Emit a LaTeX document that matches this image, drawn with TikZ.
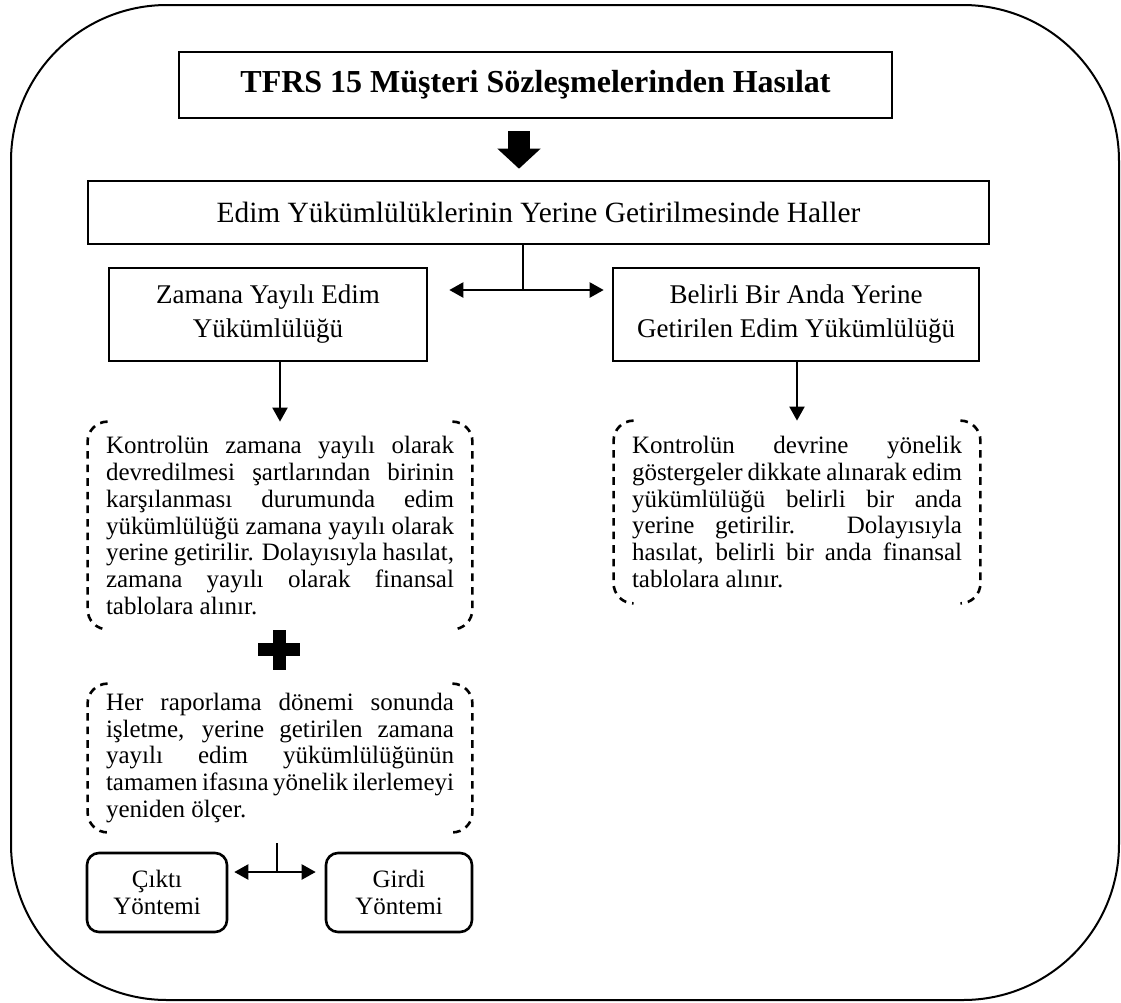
\documentclass[tikz,border=0pt]{standalone}
\usepackage{fontspec}
\setmainfont{Liberation Serif}
\usetikzlibrary{arrows.meta}

\begin{document}
\begin{tikzpicture}[x=0.5pt, y=-0.5pt, >={Triangle[length=7pt,width=7.5pt]},
	kutu/.style={draw, line width=1.3pt, inner sep=0pt, align=center},
	yuvarlak/.style={kutu, rounded corners=6pt, minimum width=70pt, minimum height=39.5pt, font=\fontsize{12.5}{13.5}\selectfont},
	metin/.style={inner xsep=9pt, inner ysep=0pt, align=justify, font=\fontsize{12.5}{13.45}\selectfont, execute at begin node={\hyphenpenalty=10000\tolerance=9999}},
	parantez/.style={line width=1.3pt, dash pattern=on 3.8pt off 3pt, rounded corners=10pt},
	ok/.style={line width=1.1pt}]
	
	\useasboundingbox (0,0) rectangle (1121,1003);
	
	% ================= dis cerceve =================
	\draw[line width=1pt, rounded corners=78pt] (11,5) rectangle (1119,1000);
	
	% ================= baslik ve haller =================
	\node[kutu, minimum width=356.5pt, minimum height=33pt, font=\fontsize{16}{19}\selectfont\bfseries] (baslik) at (535.5,85) {TFRS 15 Müşteri Sözleşmelerinden Hasılat};
	\node[kutu, minimum width=450.5pt, minimum height=31.5pt, font=\fontsize{14.7}{17}\selectfont] (hal) at (538.5,212.5) {Edim Yükümlülüklerinin Yerine Getirilmesinde Haller};
	
	% kalin blok ok
	\coordinate (blok) at (519,0);
	\draw[line width=11pt, -{Triangle[length=10pt,width=21pt]}, shorten <=6pt, shorten >=5.5pt] (baslik.south -| blok) -- (hal.north -| blok);
	
	% iki edim turu
	\node[kutu, minimum width=159pt, minimum height=46.5pt, font=\fontsize{13.5}{17}\selectfont] (zaman) at (268,314.5) {Zamana Yayılı Edim\\Yükümlülüğü};
	\node[kutu, minimum width=183pt, minimum height=46.5pt, font=\fontsize{13.5}{17}\selectfont] (belirli) at (796,314.5) {Belirli Bir Anda Yerine\\Getirilen Edim Yükümlülüğü};
	
	\coordinate (catal) at (523,290);
	\draw[ok] (hal.south -| catal) -- (catal);
	\draw[ok, <->, shorten <=10.5pt, shorten >=4pt] (zaman.east |- catal) -- (belirli.west |- catal);
	
	% ================= kesikli parantezli aciklamalar =================
	\node[metin, text width=174pt, minimum height=103.5pt] (zmetin) at (280,525.5) {Kontrolün zamana yayılı olarak\linebreak devredilmesi şartlarından birinin\linebreak karşılanması durumunda edim\linebreak yükümlülüğü zamana yayılı olarak\linebreak yerine getirilir. Dolayısıyla hasılat,\linebreak zamana yayılı olarak finansal\linebreak tablolara alınır.};
	\node[metin, text width=165pt, minimum height=91pt] (bmetin) at (797,512) {Kontrolün devrine yönelik\linebreak göstergeler dikkate alınarak edim\linebreak yükümlülüğü belirli bir anda\linebreak yerine getirilir. Dolayısıyla\linebreak hasılat, belirli bir anda finansal\linebreak tablolara alınır.};
	\node[metin, text width=174pt, minimum height=74pt] (olcum) at (280,758) {Her raporlama dönemi sonunda\linebreak işletme, yerine getirilen zamana\linebreak yayılı edim yükümlülüğünün\linebreak tamamen ifasına yönelik ilerlemeyi\linebreak yeniden ölçer.};
	
	\draw[parantez] ([xshift=10pt]zmetin.north west) -- (zmetin.north west) -- (zmetin.south west) -- ([xshift=10pt]zmetin.south west);
	\draw[parantez] ([xshift=-10pt]zmetin.north east) -- (zmetin.north east) -- (zmetin.south east) -- ([xshift=-10pt]zmetin.south east);
	\draw[parantez] ([xshift=10pt]bmetin.north west) -- (bmetin.north west) -- (bmetin.south west) -- ([xshift=10pt]bmetin.south west);
	\draw[parantez] ([xshift=-10pt]bmetin.north east) -- (bmetin.north east) -- (bmetin.south east) -- ([xshift=-10pt]bmetin.south east);
	\draw[parantez] ([xshift=10pt]olcum.north west) -- (olcum.north west) -- (olcum.south west) -- ([xshift=10pt]olcum.south west);
	\draw[parantez] ([xshift=-10pt]olcum.north east) -- (olcum.north east) -- (olcum.south east) -- ([xshift=-10pt]olcum.south east);
	
	\draw[ok, ->] (zaman.south -| zmetin.north) -- (zmetin.north);
	\draw[ok, ->] (belirli.south -| bmetin.north) -- (bmetin.north);
	
	% arti isareti
	\fill (258,643) rectangle (300,656);
	\fill (273,630) rectangle (286,670);
	
	% ================= olcum yontemleri =================
	\node[yuvarlak] (cikti) at (157,892.5) {Çıktı\\Yöntemi};
	\node[yuvarlak, minimum width=73pt] (girdi) at (399,892.5) {Girdi\\Yöntemi};
	
	\coordinate (catal2) at (277,872);
	\draw[ok, shorten <=5.5pt] (olcum.south -| catal2) -- (catal2);
	\draw[ok, <->, shorten <=3pt, shorten >=4.5pt] (cikti.east |- catal2) -- (girdi.west |- catal2);
	
\end{tikzpicture}
\end{document}
